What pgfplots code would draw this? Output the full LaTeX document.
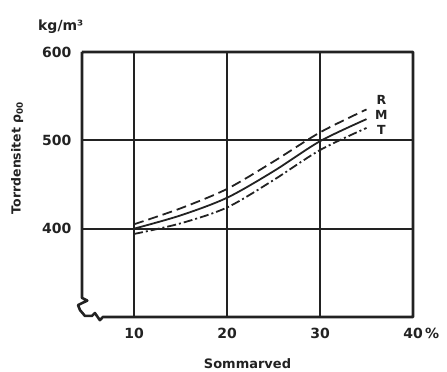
\documentclass[border=0pt]{standalone}
\usepackage{pgfplots}
\pgfplotsset{compat=1.18}
\usepackage{fontspec}
\setmainfont{DejaVu Sans}
\definecolor{ink}{HTML}{222222}
\begin{document}
\begin{tikzpicture}[font=\fontsize{13}{15}\selectfont\bfseries, color=ink]
\path[use as bounding box] (-82pt,-55pt) rectangle (365pt,317pt);
\begin{axis}[
  scale only axis, width=331pt, height=265pt,
  xmin=4.4, xmax=40, ymin=300, ymax=600,
  xtick={10,20,30,40}, xticklabels={10,20,30,40\rlap{\,\%}},
  ytick={400,500,600},
  grid=major, major grid style={line width=1.7pt, color=ink},
  axis line style={draw=none},
  tick style={draw=none},
  /pgf/number format/assume math mode=true,
  ticklabel style={font=\fontsize{14}{16}\selectfont\bfseries, text=ink},
  xticklabel style={yshift=-8pt},
  yticklabel style={xshift=-7pt},
  clip=false,
]
\addplot[ink, line width=1.8pt, dash pattern=on 10pt off 5pt, smooth] coordinates {
  (10,405) (15,423) (20,445) (25,476) (30,509) (35,535)};
\addplot[ink, line width=1.8pt, smooth] coordinates {
  (10,400) (15,415) (20,435) (25,465) (30,499) (35,524)};
\addplot[ink, line width=1.8pt, dash pattern=on 9pt off 3pt on 2pt off 3pt, smooth] coordinates {
  (10,394) (15,406) (20,424) (25,455) (30,489) (35,514)};
\draw[ink, line width=2.6pt, line join=round]
  (rel axis cs:0,1) -- (rel axis cs:1,1) -- (rel axis cs:1,0)
  -- (rel axis cs:0.063,0) -- (rel axis cs:0.054,-0.012)
  -- (rel axis cs:0.039,0.015) -- (rel axis cs:0.030,0.004)
  -- (rel axis cs:0.009,0.004) -- (rel axis cs:-0.006,0.026)
  -- (rel axis cs:-0.012,0.045) -- (rel axis cs:0.016,0.062)
  -- (rel axis cs:0,0.072) -- (rel axis cs:0,1);
\begin{scope}[font=\fontsize{12.5}{13}\selectfont\bfseries]
\node[inner sep=0pt] at (axis cs:36.6,546) {R};
\node[inner sep=0pt] at (axis cs:36.6,529) {M};
\node[inner sep=0pt] at (axis cs:36.6,512) {T};
\end{scope}
\node[anchor=west, inner sep=0pt, font=\fontsize{14}{16}\selectfont\bfseries] at (rel axis cs:-0.133,1.094) {kg/m³};
\node[rotate=90, inner sep=0pt, font=\fontsize{12.5}{14}\selectfont\bfseries] at (rel axis cs:-0.196,0.6) {Torrdensitet ρ\textsubscript{00}};
\node[inner sep=0pt] at (rel axis cs:0.5,-0.175) {Sommarved};
\end{axis}
\end{tikzpicture}
\end{document}
